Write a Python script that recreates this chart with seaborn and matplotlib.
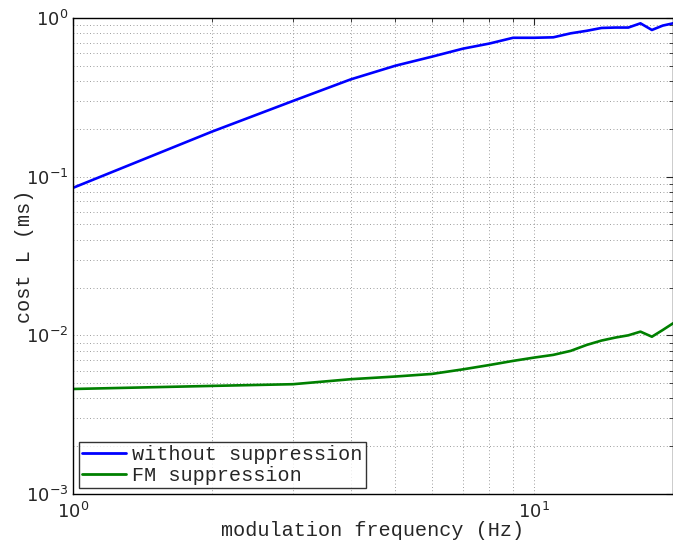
import numpy as np
import pandas as pd
import matplotlib
matplotlib.use("Agg")
import matplotlib.pyplot as plt
import seaborn as sns

freq = [1, 2, 3, 4, 5, 6, 7, 8, 9, 10, 11, 12, 13, 14, 15, 16, 17, 18, 19, 20]
cost_without = [0.085, 0.192, 0.30, 0.41, 0.50, 0.57, 0.64, 0.69, 0.75, 0.75,
                0.755, 0.80, 0.83, 0.865, 0.87, 0.87, 0.925, 0.84, 0.895, 0.925]
cost_fm = [0.00459, 0.0048, 0.00492, 0.00529, 0.0055, 0.00571, 0.0061, 0.0065, 0.0069, 0.00724,
           0.00753, 0.00798, 0.0087, 0.00927, 0.00968, 0.0100, 0.01055, 0.0098, 0.0108, 0.0119]
series_names = ["without suppression", "FM suppression"]

df = pd.DataFrame({
    "freq": freq * 2,
    "cost": cost_without + cost_fm,
    "series": [series_names[0]] * len(freq) + [series_names[1]] * len(freq),
})

sns.set_style("white")
plt.rcParams["font.family"] = ["DejaVu Sans"]
plt.rcParams["mathtext.default"] = "regular"

fig = plt.figure(figsize=(6.73, 5.44), dpi=100)
ax = fig.add_axes([0.1085, 0.0919, 0.8915, 0.8751])

sns.lineplot(data=df, x="freq", y="cost", hue="series", hue_order=series_names,
             palette=["#0000ff", "#008000"], linewidth=1.9, ax=ax)

ax.set_xscale("log")
ax.set_yscale("log")
ax.set_xlim(1, 20)
ax.set_ylim(1e-3, 1)

ax.grid(True, which="both", linestyle=(0, (1, 3)), color="#444444", linewidth=0.6, alpha=0.7)
ax.tick_params(which="both", direction="in", top=True, right=True, labelsize=13)
ax.tick_params(axis="x", which="major", pad=6)
ax.tick_params(which="major", length=5)
ax.tick_params(which="minor", length=3)
for s in ax.spines.values():
    s.set_color("black")
    s.set_linewidth(1.0)

mono = "Liberation Mono"
ax.set_xlabel("modulation frequency (Hz)", fontfamily=mono, fontsize=14.5, labelpad=-1)
ax.set_ylabel("cost L (ms)", fontfamily=mono, fontsize=14.5, labelpad=-6)

leg = ax.legend(loc="lower left", prop={"family": mono, "size": 14.5}, frameon=True,
                fancybox=False, borderpad=0.15, labelspacing=0.1, handlelength=2.2,
                handletextpad=0.3, borderaxespad=0.3)
leg.get_frame().set_edgecolor("black")
leg.get_frame().set_linewidth(1.0)
for line in leg.get_lines():
    line.set_linewidth(2.0)

fig.savefig("out.png", dpi=100)
